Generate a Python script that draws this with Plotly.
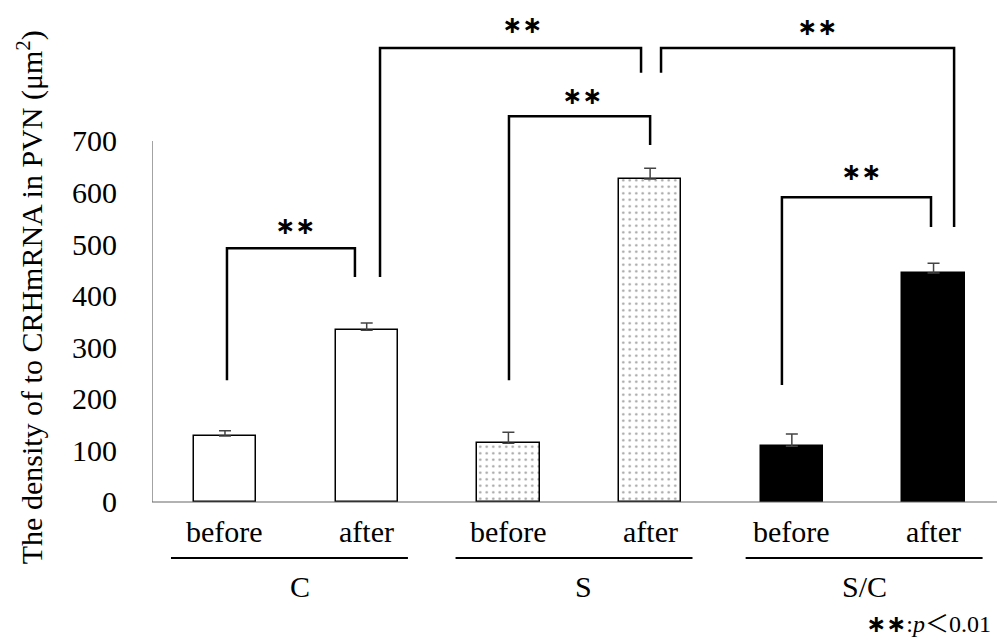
import plotly.graph_objects as go

# ---- data ----
categories = ["before", "after", "before", "after", "before", "after"]
groups = ["C", "S", "S/C"]
values = [128, 333, 114, 626, 108, 444]
errors = [10, 14, 21, 21, 24, 19]
y_ticks = [0, 100, 200, 300, 400, 500, 600, 700]

# significance brackets: x_left, y_left_bottom, y_top, x_right, y_right_bottom, star_x, star_y
brackets = [
    (0.014, 236, 492, 0.917, 436, 0.494, 535),
    (1.094, 436, 880, 2.936, 832, 2.096, 925),
    (3.077, 832, 880, 5.145, 533, 4.177, 921),
    (2.004, 236, 748, 3.000, 692, 2.520, 787),
    (3.930, 227, 591, 4.982, 533, 4.490, 640),
]

group_centers = [0.455, 2.463, 4.51]
group_label_x = [0.53, 2.53, 4.51]
group_halfwidth = 0.836

XMIN, XMAX = -0.515, 5.483
YMIN, YMAX = -263.7, 957.7

SERIF = "Liberation Serif"
CJK = "Noto Sans CJK JP"
STAR_FONT = "DejaVu Sans"

x = list(range(len(values)))
fills = ["white", "white", "white", "white", "black", "black"]
pattern_shapes = ["", "", ".", ".", "", ""]

fig = go.Figure()
fig.add_trace(go.Bar(
    x=x, y=values, width=0.44,
    marker=dict(
        color=fills,
        line=dict(color="black", width=1.5),
        pattern=dict(shape=pattern_shapes, fgcolor="#333", bgcolor="white",
                     size=6.5, solidity=0.12),
    ),
    error_y=dict(type="data", array=errors, arrayminus=[0] * len(errors),
                 symmetric=False, color="#444", thickness=1.5, width=6),
    showlegend=False,
))

shapes = []
shapes.append(dict(type="line", xref="x", yref="y", x0=XMIN, x1=XMAX, y0=0, y1=0,
                   line=dict(color="#666", width=1.2)))
shapes.append(dict(type="line", xref="x", yref="y", x0=XMIN, x1=XMIN, y0=0, y1=700,
                   line=dict(color="#666", width=1.2)))
annotations = []
for (xl, yl, yt, xr, yr, sx, sy) in brackets:
    shapes.append(dict(type="path", xref="x", yref="y",
                       path=f"M {xl},{yl} L {xl},{yt} L {xr},{yt} L {xr},{yr}",
                       line=dict(color="black", width=2.5)))
    annotations.append(dict(x=sx, y=sy, xref="x", yref="y", text="∗∗",
                            showarrow=False,
                            font=dict(family=STAR_FONT, size=24, color="black", weight=700),
                            xanchor="center", yanchor="middle"))

for i, c in enumerate(categories):
    annotations.append(dict(x=i, y=-58, xref="x", yref="y", text=c, showarrow=False,
                            font=dict(family=SERIF, size=30, color="black"),
                            xanchor="center", yanchor="middle"))
for gc, gl, g in zip(group_centers, group_label_x, groups):
    shapes.append(dict(type="line", xref="x", yref="y", x0=gc - group_halfwidth,
                       x1=gc + group_halfwidth, y0=-108.6, y1=-108.6,
                       line=dict(color="black", width=2)))
    annotations.append(dict(x=gl, y=-163, xref="x", yref="y", text=g, showarrow=False,
                            font=dict(family=SERIF, size=30, color="black"),
                            xanchor="center", yanchor="middle"))

note = (f"<span style='font-family:{STAR_FONT};font-weight:bold'>∗∗</span>:"
        f"<i>p</i><span style='font-family:{CJK}'>＜</span>0.01")
annotations.append(dict(x=5.42, y=-232, xref="x", yref="y", text=note, showarrow=False,
                        font=dict(family=SERIF, size=24, color="black"),
                        xanchor="right", yanchor="middle"))

annotations.append(dict(x=-0.1435, y=397, xref="paper", yref="y",
                        text="The density of to CRHmRNA in PVN (μm<sup>2</sup>)",
                        showarrow=False, textangle=-90,
                        font=dict(family=SERIF, size=30, color="black"),
                        xanchor="center", yanchor="middle"))

fig.update_layout(
    width=997, height=630,
    margin=dict(l=144, r=3, t=0, b=0),
    plot_bgcolor="white", paper_bgcolor="white",
    shapes=shapes, annotations=annotations,
    xaxis=dict(range=[XMIN, XMAX], showticklabels=False, showgrid=False,
               zeroline=False, showline=False, ticks=""),
    yaxis=dict(range=[YMIN, YMAX], tickvals=y_ticks, showgrid=False, zeroline=False,
               showline=False, ticks="", ticklabelstandoff=34,
               tickfont=dict(family=SERIF, size=30, color="black")),
    bargap=0,
)

fig.write_html("out.html")
